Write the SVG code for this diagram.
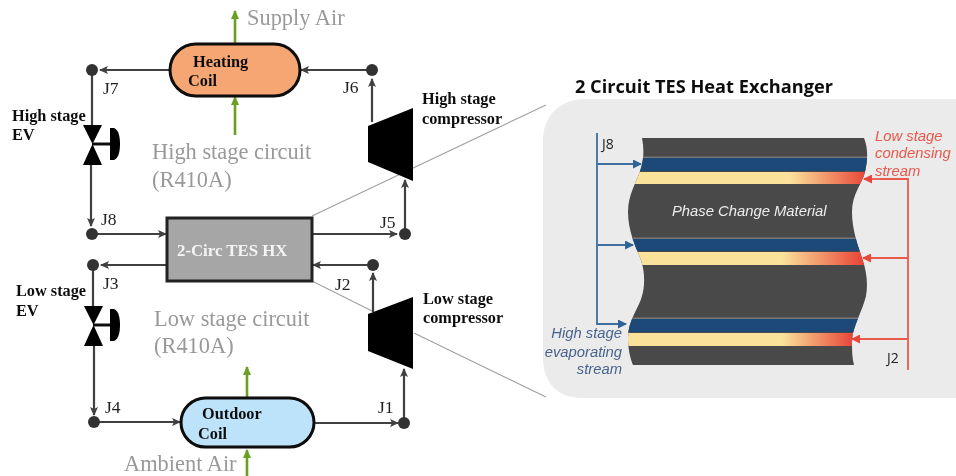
<svg xmlns="http://www.w3.org/2000/svg" width="956" height="476" viewBox="0 0 956 476">
<style>
text{font-family:"Liberation Serif","Times New Roman",serif}
.lbl{font-size:17.500px;fill:#222}
.bold{font-size:16.300px;font-weight:bold;fill:#111}
.gray{font-size:22.400px;fill:#999}
.wire{fill:none;stroke:#404040;stroke-width:2.2}
.green{fill:none;stroke:#6aa023;stroke-width:2.6}
.guide{fill:none;stroke:#a0a0a0;stroke-width:1.1}
.dot{fill:#333}
.coil{stroke:#0a0a0a;stroke-width:3}
.blk{fill:#000}
text.sans,.sans text{font-family:"Liberation Sans",Arial,sans-serif;font-style:italic;font-size:14.800px}
text.cal{font-family:"Open Sans",sans-serif;font-size:14px;fill:#222}
.blue{fill:none;stroke:#3f6f9f;stroke-width:1.8}
.red{fill:none;stroke:#ea5a4c;stroke-width:1.8}
.band-b{fill:#1c4a78}
</style>
<defs>
<marker id="ah" markerUnits="userSpaceOnUse" markerWidth="9" markerHeight="8" refX="8" refY="4" orient="auto"><path d="M0 0L9 4L0 8L2 4Z" fill="#404040"/></marker>
<marker id="ag" markerUnits="userSpaceOnUse" markerWidth="9" markerHeight="8" refX="8" refY="4" orient="auto"><path d="M0 0L9 4L0 8Z" fill="#6aa023"/></marker>
<marker id="ab" markerUnits="userSpaceOnUse" markerWidth="9" markerHeight="9" refX="8" refY="4.5" orient="auto"><path d="M0 0L9 4.5L0 9Z" fill="#2f6496"/></marker>
<marker id="ar" markerUnits="userSpaceOnUse" markerWidth="9" markerHeight="9" refX="8" refY="4.5" orient="auto"><path d="M0 0L9 4.5L0 9Z" fill="#e8453a"/></marker>
<linearGradient id="g1" gradientUnits="userSpaceOnUse" x1="790" x2="865" y1="0" y2="0"><stop offset="0" stop-color="#fae29a"/><stop offset="1" stop-color="#e8483a"/></linearGradient>
<linearGradient id="g2" gradientUnits="userSpaceOnUse" x1="782" x2="861" y1="0" y2="0"><stop offset="0" stop-color="#fae29a"/><stop offset="1" stop-color="#e8483a"/></linearGradient>
<linearGradient id="g3" gradientUnits="userSpaceOnUse" x1="782" x2="852" y1="0" y2="0"><stop offset="0" stop-color="#fae29a"/><stop offset="1" stop-color="#e8483a"/></linearGradient>
<clipPath id="stack"><path d="M642 138C644 148 644 158 641 168C637 182 628 194 628 212C628 232 637 250 641 260C645 272 645 286 642 296C639 308 628 320 628 338C628 348 630 358 633 365L854 365C852 358 852 350 852 340C853 326 862 312 866 296C868 284 867 272 862 258C858 246 852 230 852 212C852 194 862 184 865 172C868 158 868 148 864 138Z"/></clipPath>
<filter id="soft" x="0" y="0" width="100%" height="100%"><feGaussianBlur stdDeviation="0.45"/></filter>
</defs>
<rect width="956" height="476" fill="#fff"/>
<g filter="url(#soft)">
<g id="guides">
<path class="guide" d="M312 216L546 105M312 281L372 311M414 333L546 397"/>
</g>
<g id="panel">
<path d="M956 99H585C560 99 543 116 543 140V358C543 383 558 398 582 398H956Z" fill="#ebebeb"/>
<text x="575" y="93" style="font-family:'Open Sans',sans-serif;font-weight:700;font-size:18.200px" fill="#111">2 Circuit TES Heat Exchanger</text>
<g clip-path="url(#stack)">
<rect x="620" y="138" width="255" height="227" fill="#484848"/>
<rect x="620" y="156.500" width="255" height="1.500" fill="#777"/>
<rect x="620" y="237.500" width="255" height="1.500" fill="#777"/>
<rect x="620" y="317.500" width="255" height="1.500" fill="#777"/>
<rect class="band-b" x="620" y="158" width="255" height="13"/>
<rect x="620" y="172" width="255" height="12" fill="url(#g1)"/>
<rect class="band-b" x="620" y="239" width="255" height="12"/>
<rect x="620" y="252" width="255" height="13" fill="url(#g2)"/>
<rect class="band-b" x="620" y="319" width="255" height="13"/>
<rect x="620" y="333" width="255" height="13" fill="url(#g3)"/>
</g>
<text class="sans" x="672" y="216" fill="#eee">Phase Change Material</text>
<path class="blue" d="M597 133V324H626"/>
<path class="blue" d="M597 164H641" marker-end="url(#ab)"/>
<path class="blue" d="M597 245H633" marker-end="url(#ab)"/>
<path class="blue" d="M597 324H626" marker-end="url(#ab)"/>
<path class="red" d="M908 370V179H880"/>
<path class="red" d="M880 179H864" marker-end="url(#ar)"/>
<path class="red" d="M908 258H863" marker-end="url(#ar)"/>
<path class="red" d="M908 339H852" marker-end="url(#ar)"/>
<text class="cal" x="602" y="149">J8</text>
<text class="cal" x="887" y="363">J2</text>
<g class="sans" fill="#e8584c"><text x="875" y="141">Low stage</text><text x="875" y="158">condensing</text><text x="875" y="176">stream</text></g>
<g class="sans" fill="#47648c" text-anchor="end"><text x="622" y="338">High stage</text><text x="622" y="357">evaporating</text><text x="622" y="374">stream</text></g>
</g>
<g id="connectors">
<path class="wire" d="M170 70H100" marker-end="url(#ah)"/>
<path class="wire" d="M372 70H301" marker-end="url(#ah)"/>
<path class="wire" d="M372 122V79" marker-end="url(#ah)"/>
<path class="wire" d="M92 70V126"/>
<path class="wire" d="M91 165V226" marker-end="url(#ah)"/>
<path class="wire" d="M92 234H166" marker-end="url(#ah)"/>
<path class="wire" d="M312 234H397" marker-end="url(#ah)"/>
<path class="wire" d="M405 234V180" marker-end="url(#ah)"/>
<path class="wire" d="M167 265H101" marker-end="url(#ah)"/>
<path class="wire" d="M373 265H313" marker-end="url(#ah)"/>
<path class="wire" d="M373 312V273" marker-end="url(#ah)"/>
<path class="wire" d="M93 265V306"/>
<path class="wire" d="M94 346V415" marker-end="url(#ah)"/>
<path class="wire" d="M94 422H180" marker-end="url(#ah)"/>
<path class="wire" d="M314 423H398" marker-end="url(#ah)"/>
<path class="wire" d="M404 423V369" marker-end="url(#ah)"/>
<path class="green" d="M235 44V11" marker-end="url(#ag)"/>
<path class="green" d="M235 135V97" marker-end="url(#ag)"/>
<path class="green" d="M247 398V367" marker-end="url(#ag)"/>
<path class="green" d="M247 476V450" marker-end="url(#ag)"/>
</g>
<g id="j7"><circle class="dot" cx="92" cy="70" r="6"/><text class="lbl" x="103" y="94">J7</text></g>
<g id="j6"><circle class="dot" cx="372" cy="70" r="6"/><text class="lbl" x="343" y="93">J6</text></g>
<g id="j8"><circle class="dot" cx="92" cy="234" r="6"/><text class="lbl" x="101" y="225">J8</text></g>
<g id="j5"><circle class="dot" cx="405" cy="234" r="6"/><text class="lbl" x="380" y="228">J5</text></g>
<g id="j3"><circle class="dot" cx="93" cy="265" r="6"/><text class="lbl" x="103" y="289">J3</text></g>
<g id="j2"><circle class="dot" cx="373" cy="265" r="6"/><text class="lbl" x="335" y="290">J2</text></g>
<g id="j4"><circle class="dot" cx="94" cy="422" r="6"/><text class="lbl" x="105" y="413">J4</text></g>
<g id="j1"><circle class="dot" cx="404" cy="423" r="6"/><text class="lbl" x="378" y="413">J1</text></g>
<g id="heating-coil"><rect class="coil" x="170" y="44" width="130" height="52" rx="26" fill="#f5a673"/><text class="bold" x="193" y="67">Heating</text><text class="bold" x="188" y="86">Coil</text></g>
<g id="outdoor-coil"><rect class="coil" x="181" y="398" width="133" height="49" rx="24.500" fill="#bde3fb"/><text class="bold" x="202" y="419">Outdoor</text><text class="bold" x="198" y="439">Coil</text></g>
<g id="tes-hx"><rect x="167" y="218" width="145" height="63" fill="#a6a6a6" stroke="#222" stroke-width="3"/><text x="177" y="256" font-size="16.800" font-weight="bold" fill="#f4f4f4">2-Circ TES HX</text></g>
<g id="high-ev"><path class="blk" d="M83 125H102L92.500 144L102 165H83L92.500 144Z"/><rect x="92" y="142.500" width="19" height="3" fill="#111"/><path class="blk" d="M110 128H114C119 130 120 138 120 144C120 150 119 158 114 160H110Z"/><text class="bold" x="12" y="121">High stage</text><text class="bold" x="12" y="140">EV</text></g>
<g id="low-ev"><path class="blk" d="M84 306H103L93.500 325L103 346H84L93.500 325Z"/><rect x="93" y="323.500" width="18" height="3" fill="#111"/><path class="blk" d="M110 309H114C119 311 120 319 120 325C120 331 119 339 114 341H110Z"/><text class="bold" x="16" y="296">Low stage</text><text class="bold" x="16" y="316">EV</text></g>
<g id="high-compressor"><path class="blk" d="M368 126L413 108V181L368 162Z"/><text class="bold" x="422" y="104">High stage</text><text class="bold" x="422" y="124">compressor</text></g>
<g id="low-compressor"><path class="blk" d="M368 314L413 297V369L368 351Z"/><text class="bold" x="423" y="304">Low stage</text><text class="bold" x="423" y="323">compressor</text></g>
<g id="captions">
<text class="gray" x="247" y="25">Supply Air</text>
<text class="gray" x="152" y="159">High stage circuit</text>
<text class="gray" x="152" y="187">(R410A)</text>
<text class="gray" x="154" y="326">Low stage circuit</text>
<text class="gray" x="154" y="353">(R410A)</text>
<text class="gray" x="124" y="471">Ambient Air</text>
</g>
</g>
</svg>
